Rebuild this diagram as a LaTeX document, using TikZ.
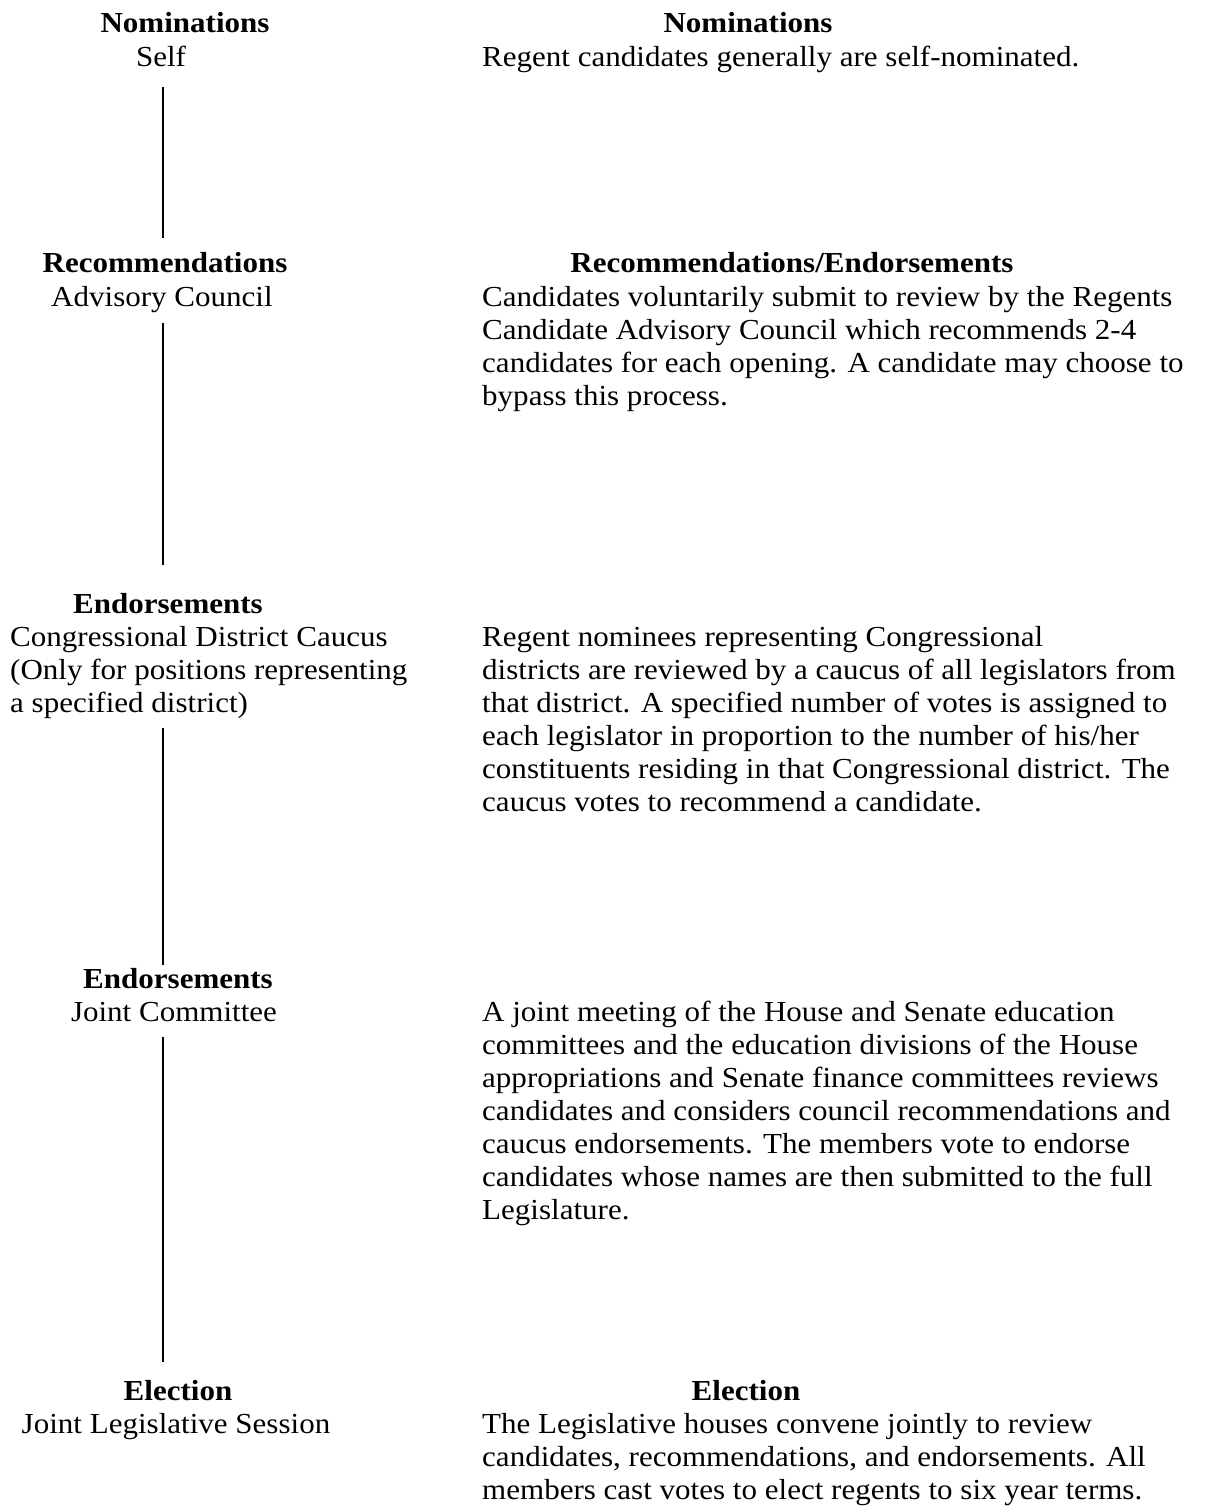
\documentclass[tikz,border=0pt]{standalone}
\usepackage{fontspec}
\setmainfont{Liberation Serif}[FakeStretch=1.07]
\tikzset{
  lbl/.style={anchor=base, inner sep=0pt, font=\fontsize{29}{33}\selectfont},
  head/.style={lbl, font=\fontsize{29}{33}\selectfont\bfseries},
  para/.style={anchor=north west, inner sep=0pt, align=left, font=\fontsize{29}{33}\selectfont},
  stem/.style={line width=2.2pt}
}
\begin{document}
\begin{tikzpicture}[x=1pt,y=-1pt]
  \useasboundingbox (0,0) rectangle (1209,1510);
  \coordinate (stemx) at (163,0);
  % left column
  \draw
    (185,32) node[head] (nomL){Nominations}
    (161,66) node[lbl] (selfL){Self}
    (165,272) node[head] (recL){Recommendations}
    (162,306) node[lbl] (advL){Advisory Council}
    (168,613) node[head] (endL){Endorsements}
    (10,626) node[para] (cdcL){Congressional District Caucus\\(Only for positions representing\\a specified district)}
    (178,988) node[head] (jendL){Endorsements}
    (174,1021) node[lbl] (jcL){Joint Committee}
    (178,1400) node[head] (elL){Election}
    (176,1433) node[lbl] (jlsL){Joint Legislative Session};
  % right column
  \draw
    (748,32) node[head] (nomR){Nominations}
    (482,46) node[para] (nomT){Regent candidates generally are self-nominated.}
    (792,272) node[head] (recR){Recommendations/Endorsements}
    (482,286) node[para] (recT){Candidates voluntarily submit to review by the Regents\\
      Candidate Advisory Council which recommends 2-4\\
      candidates for each opening.  A candidate may choose to\\
      bypass this process.}
    (482,626) node[para] (cdcT){Regent nominees representing Congressional\\
      districts are reviewed by a caucus of all legislators from\\
      that district.  A specified number of votes is assigned to\\
      each legislator in proportion to the number of his/her\\
      constituents residing in that Congressional district.  The\\
      caucus votes to recommend a candidate.}
    (482,1001) node[para] (jcT){A joint meeting of the House and Senate education\\
      committees and the education divisions of the House\\
      appropriations and Senate finance committees reviews\\
      candidates and considers council recommendations and\\
      caucus endorsements.  The members vote to endorse\\
      candidates whose names are then submitted to the full\\
      Legislature.}
    (746,1400) node[head] (elR){Election}
    (482,1413) node[para] (elT){The Legislative houses convene jointly to review\\
      candidates, recommendations, and endorsements.  All\\
      members cast votes to elect regents to six year terms.};
  \begin{scope}[stem]
    \draw[shorten <=21pt, shorten >=14pt] (selfL.south -| stemx) to (recL.north -| stemx);
    \draw[shorten <=11pt, shorten >=28pt] (advL.south -| stemx) to (endL.north -| stemx);
    \draw[shorten <=9pt, shorten >=3pt] (cdcL.south -| stemx) to (jendL.north -| stemx);
    \draw[shorten <=16pt, shorten >=18pt] (jcL.south -| stemx) to (elL.north -| stemx);
  \end{scope}
\end{tikzpicture}
\end{document}
